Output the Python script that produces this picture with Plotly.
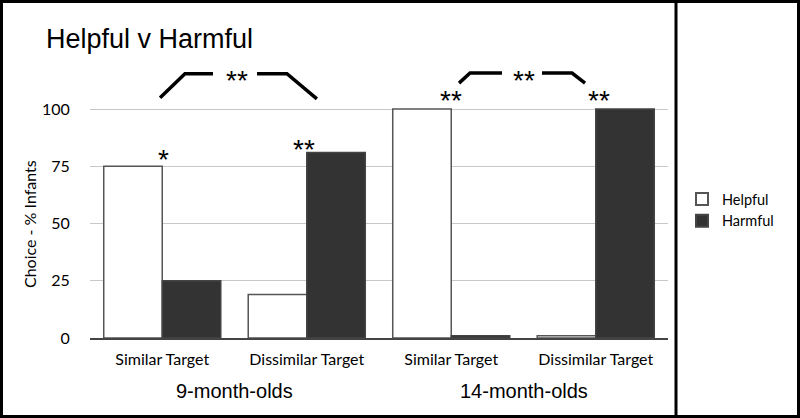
import plotly.graph_objects as go

categories = ["Similar Target", "Dissimilar Target", "Similar Target ", "Dissimilar Target "]
tick_labels = ["Similar Target", "Dissimilar Target", "Similar Target", "Dissimilar Target"]
helpful = [75, 19, 100, 1]
harmful = [25, 81, 1, 100]
groups = ["9-month-olds", "14-month-olds"]
y_ticks = [0, 25, 50, 75, 100]

W, H = 800, 418
L, R, T, B = 90, 132, 20, 80
PW, PH = W - L - R, H - T - B
YMAX = PH / 2.29

def px(x):
    return (x - L) / PW

def py(y):
    return (H - B - y) / PH

GILL = "Lato, Noto Sans, sans-serif"
HELV = "Liberation Sans, Arial, sans-serif"

fig = go.Figure()
fig.add_trace(go.Bar(x=categories, y=helpful, name="Helpful",
                     marker=dict(color="white", line=dict(color="#555555", width=1.5))))
fig.add_trace(go.Bar(x=categories, y=harmful, name="Harmful",
                     marker=dict(color="#333333", line=dict(color="#444444", width=1.5))))

shapes = []
def bracket(pts, w=3.5):
    path = "M " + " L ".join(f"{x},{y}" for x, y in pts)
    shapes.append(dict(type="path", path=path, xref="x", yref="y",
                       line=dict(color="black", width=w)))

bracket([(-0.015, 104.9), (0.157, 115.4), (0.351, 115.4)])
bracket([(0.656, 115.4), (0.863, 115.4), (1.07, 104.4)])
bracket([(2.054, 111.3), (2.13, 115.7), (2.351, 115.7)])
bracket([(2.628, 115.7), (2.836, 115.7), (2.926, 111.3)])

shapes.append(dict(type="rect", xref="paper", yref="paper",
                   x0=px(1.5), x1=px(W - 1.5), y0=py(H - 1.5), y1=py(1.5),
                   line=dict(color="black", width=3)))
shapes.append(dict(type="line", xref="paper", yref="paper",
                   x0=px(676), x1=px(676), y0=py(H), y1=py(0),
                   line=dict(color="black", width=3)))

ann = []
star_font = dict(family=HELV, size=28, color="black")
def stars(text, x, y):
    ann.append(dict(text=text, x=x, y=y, xref="x", yref="y", showarrow=False,
                    font=star_font, yanchor="middle", xanchor="center"))

stars("**", 0.517, 112.5)
stars("**", 2.503, 112.5)
stars("*", 0.01, 78)
stars("**", 0.98, 82.5)
stars("**", 2.0, 103.5)
stars("**", 3.02, 103.5)

ann.append(dict(text="Helpful v Harmful", x=px(44), y=py(39), xref="paper", yref="paper",
                xanchor="left", yanchor="middle", showarrow=False,
                font=dict(family=HELV, size=27, color="black")))
ann.append(dict(text="Choice - % Infants", x=px(29), y=py(224), xref="paper", yref="paper",
                textangle=-90, xanchor="center", yanchor="middle", showarrow=False,
                font=dict(family=GILL, size=16, color="black")))
for i, g in enumerate(groups):
    ann.append(dict(text=g, x=px(L + PW * (2 * i + 1) / 4), y=py(391), xref="paper", yref="paper",
                    xanchor="center", yanchor="middle", showarrow=False,
                    font=dict(family=HELV, size=20, color="black")))

fig.update_layout(
    width=W, height=H,
    margin=dict(l=L, r=R, t=T, b=B),
    paper_bgcolor="white", plot_bgcolor="white",
    barmode="group", bargap=0.19, bargroupgap=0,
    shapes=shapes, annotations=ann,
    showlegend=True,
    legend=dict(x=px(682), y=py(183), xanchor="left", yanchor="top",
                font=dict(family=GILL, size=14.5, color="black"),
                bgcolor="rgba(0,0,0,0)", tracegroupgap=0, itemsizing="constant"),
    xaxis=dict(type="category", tickvals=categories, ticktext=tick_labels,
               showline=True, linecolor="#444444", linewidth=2,
               ticks="outside", ticklen=6, tickcolor="rgba(0,0,0,0)",
               tickfont=dict(family=GILL, size=16, color="black"),
               showgrid=False, zeroline=False, range=[-0.5, 3.5]),
    yaxis=dict(range=[0, YMAX], tickvals=y_ticks, showgrid=True, gridcolor="#c8c8c8",
               gridwidth=1, zeroline=False, showline=False,
               ticks="outside", ticklen=16, tickcolor="rgba(0,0,0,0)",
               tickfont=dict(family=GILL, size=16, color="black")),
)

fig.write_html("out.html", config={"displayModeBar": False},
               post_script="document.body.style.margin='0';")
